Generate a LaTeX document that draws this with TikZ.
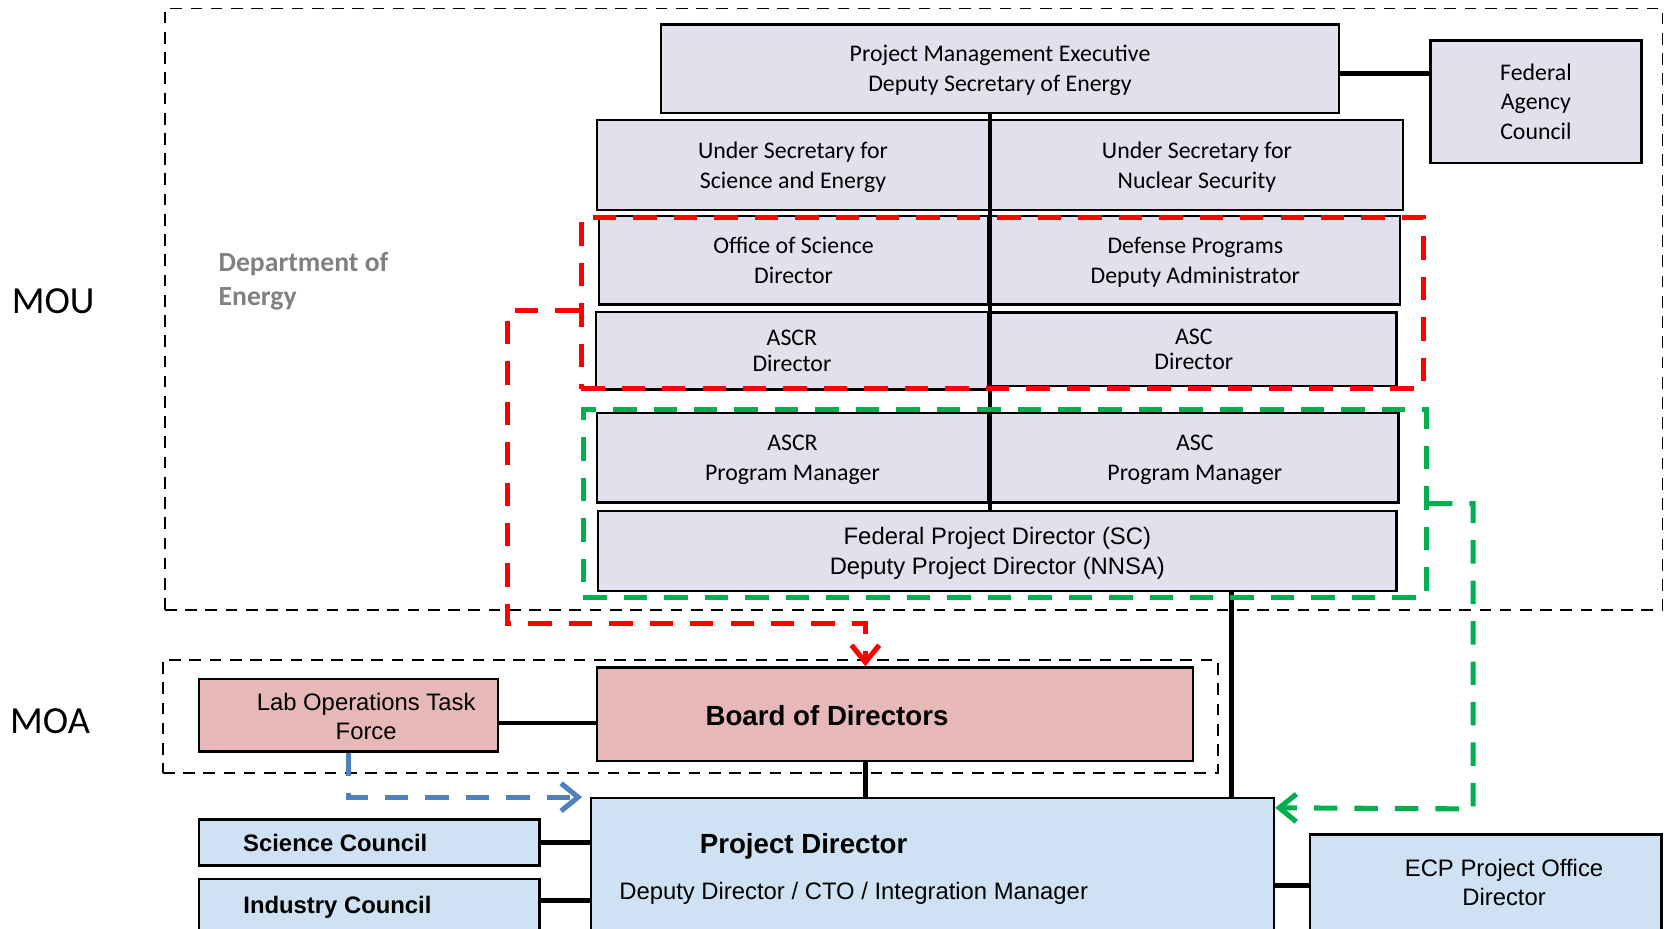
\documentclass[tikz,border=0pt]{standalone}
\usepackage{fontspec}
\setmainfont{Carlito}
\newfontfamily\arialfont{Liberation Sans}
\usetikzlibrary{arrows.meta}
\definecolor{doelav}{HTML}{E4DFEC}
\definecolor{moapink}{HTML}{E6B8B7}
\definecolor{ecpblue}{HTML}{CFE2F3}
\definecolor{mougreen}{HTML}{00B050}
\definecolor{moablue}{HTML}{4F81BD}
\definecolor{doegray}{HTML}{808080}
\tikzset{
  doebox/.style={draw,fill=doelav,line width=1.1pt,inner sep=0pt,text depth=0pt,align=center,font=\fontsize{11.2}{14}\selectfont},
  moabox/.style={draw,fill=moapink,line width=1.1pt,inner sep=0pt},
  ecpbox/.style={draw,fill=ecpblue,line width=1.1pt,inner sep=0pt},
  zone/.style={draw,line width=0.8pt,dash pattern=on 5.5pt off 4pt,inner sep=0pt},
  reddash/.style={draw=red,line width=2.4pt,dash pattern=on 11pt off 8pt,inner sep=0pt},
  greendash/.style={draw=mougreen,line width=2.4pt,dash pattern=on 11pt off 8pt,inner sep=0pt},
  bluedash/.style={draw=moablue,line width=2.4pt,dash pattern=on 11pt off 8pt},
  link/.style={line width=2pt},
  arialtxt/.style={font=\arialfont\fontsize{11.2}{13.5}\selectfont,align=center,inner sep=0pt,text depth=0pt},
  arialbold/.style={font=\arialfont\bfseries\fontsize{#1}{16}\selectfont,inner sep=0pt,text depth=0pt},
}
\begin{document}
\begin{tikzpicture}[>={Straight Barb[length=8pt,width=13pt]}, x=0.5pt, y=-0.5pt]
\clip (0,0) rectangle (1568,872);
\node[font=\fontsize{18}{22}\selectfont] (mou) at (50,283) {MOU};
\node[font=\fontsize{18}{22}\selectfont] (moa) at (47,678) {MOA};
\node[zone,minimum width=703.5pt,minimum height=282.5pt] (doezone) at (858.5,290.5) {};
\node[zone,minimum width=495.5pt,minimum height=53pt] (moazone) at (648.5,673) {};
\node[anchor=west,align=left,inner sep=0pt,text=doegray,font=\bfseries\fontsize{13}{16}\selectfont] (doe) at (205,264) {Department of\\Energy};
% DOE chain
\node[doebox,minimum width=318.5pt,minimum height=41.5pt] (pme) at (939.5,64.5) {Project Management Executive\\Deputy Secretary of Energy};
\node[doebox,minimum width=99pt,minimum height=57.5pt] (fac) at (1443,95.5) {Federal\\Agency\\Council};
\node[doebox,minimum width=184pt,minimum height=42pt] (usse) at (745,155) {Under Secretary for\\Science and Energy};
\node[doebox,minimum width=193.5pt,minimum height=42pt] (usns) at (1124.5,155) {Under Secretary for\\Nuclear Security};
\node[doebox,minimum width=182.5pt,minimum height=41.5pt] (osd) at (745.5,244.5) {Office of Science\\Director};
\node[doebox,minimum width=192pt,minimum height=41.5pt] (dpda) at (1123,244.5) {Defense Programs\\Deputy Administrator};
\node[doebox,minimum width=184pt,minimum height=36.5pt,font=\fontsize{11.2}{12}\selectfont] (ascrd) at (744,329.5) {ASCR\\Director};
\node[doebox,minimum width=190.5pt,minimum height=34.5pt,font=\fontsize{11.2}{12}\selectfont] (ascd) at (1121.5,328) {ASC\\Director};
\node[doebox,minimum width=183.5pt,minimum height=42pt] (ascrpm) at (744.5,430) {ASCR\\Program Manager};
\node[doebox,minimum width=191.5pt,minimum height=42pt] (ascpm) at (1122.5,430) {ASC\\Program Manager};
\node[doebox,minimum width=375pt,minimum height=37.5pt,font=\arialfont\fontsize{11.2}{14}\selectfont] (fpd) at (937,517.5) {Federal Project Director (SC)\\Deputy Project Director (NNSA)};
% MOA and ECP
\node[moabox,minimum width=140.5pt,minimum height=34pt] (lotf) at (327.5,672) {};
\node[arialtxt] (lotflbl) at (344,673) {Lab Operations Task\\Force};
\node[moabox,minimum width=280pt,minimum height=44pt] (bod) at (841,671) {};
\node[arialbold=13] (bodlbl) at (777,672) {Board of Directors};
\node[ecpbox,minimum width=321pt,minimum height=80pt] (pd) at (876,830) {};
\node[arialbold=13] (pdlbl) at (755,792) {Project Director};
\node[arialtxt] (pdsub) at (802,837) {Deputy Director / CTO / Integration Manager};
\node[ecpbox,minimum width=160pt,minimum height=21.5pt] (sc) at (347,791.5) {};
\node[arialbold=11.2] (sclbl) at (315,792) {Science Council};
\node[ecpbox,minimum width=160pt,minimum height=40pt] (ic) at (347,866) {};
\node[arialbold=11.2] (iclbl) at (317,850) {Industry Council};
\node[ecpbox,minimum width=165pt,minimum height=60pt] (ecp) at (1396,844) {};
\node[arialtxt] (ecplbl) at (1413,829) {ECP Project Office\\Director};
% solid links
\coordinate (pmeout) at ([yshift=-2.25pt]pme.east);
\draw[link] (pmeout) -- (pmeout -| fac.west);
\coordinate (spine) at ([xshift=-4.75pt]pme.south);
\draw[line width=1.5pt] (spine) -- (spine |- fpd.north);
\coordinate (lotfout) at ([yshift=-3.5pt]lotf.east);
\draw[link] (lotfout) -- (lotfout -| bod.west);
\coordinate (bodout) at ([xshift=-14pt]bod.south);
\draw[link] (bodout) -- (bodout |- pd.north);
\coordinate (fpdout) at ([xshift=110pt]fpd.south);
\draw[link] (fpdout) -- (fpdout |- pd.north);
\draw[link] (sc.east) -- (sc.east -| pd.west);
\coordinate (icout) at ([yshift=-10.5pt]ic.north east);
\draw[link] (icout) -- (icout -| pd.west);
\coordinate (ecpin) at ([yshift=-24.5pt]ecp.north west);
\draw[link] (ecpin) -- (ecpin -| pd.east);
% dashed groups
\node[reddash,minimum width=395.5pt,minimum height=80.5pt] (redzone) at (941.5,284.5) {};
\node[greendash,minimum width=396pt,minimum height=88pt] (greenzone) at (944,473) {};
\draw[reddash,->] (redzone.west |- ascrd.north) -| (477,586) -| ([xshift=-14pt]bod.north);
\draw[greendash,->] (greenzone.east |- ascpm.south) -| (1384,760) -- ([yshift=-5pt]pd.north east);
\draw[bluedash,->] (lotf.south) |- ([xshift=-3.5pt]pd.north west);
\end{tikzpicture}
\end{document}
